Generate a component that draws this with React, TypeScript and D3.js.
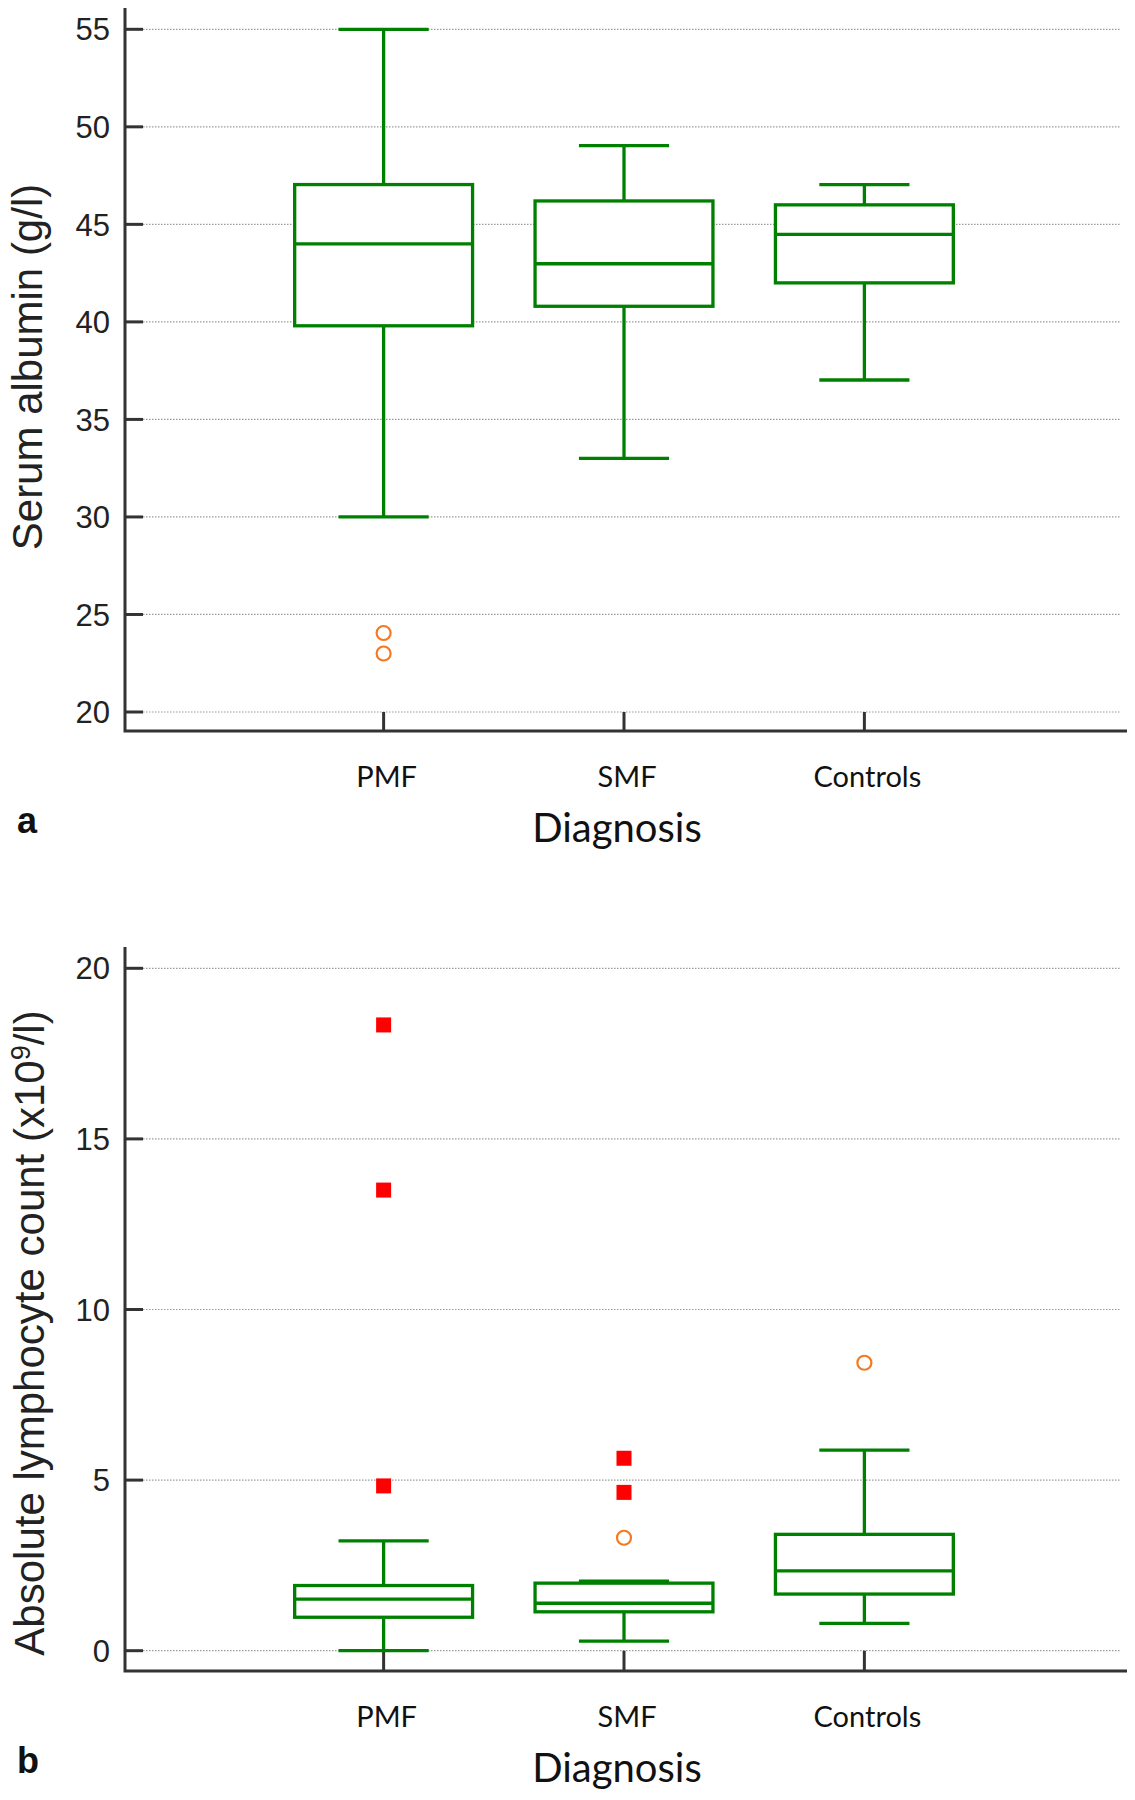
import React from "react";
import * as d3 from "d3";

// categories on the x axis
const categories = ["PMF", "SMF", "Controls"];

// panel a: serum albumin (g/l)
const albuminHigh = [55, 49.04, 47.04];
const albuminQ3 = [47.04, 46.2, 46.0];
const albuminMedian = [44.0, 42.98, 44.49];
const albuminQ1 = [39.8, 40.8, 42.0];
const albuminLow = [30, 33.0, 37.02];
const albuminOutside = [[24.05, 23.0], [], []];
const albuminFarOut = [[], [], []];
const albuminTicks = [20, 25, 30, 35, 40, 45, 50, 55];

// panel b: absolute lymphocyte count (x10^9/l)
const lymphHigh = [3.22, 2.04, 5.88];
const lymphQ3 = [1.91, 1.98, 3.41];
const lymphMedian = [1.51, 1.39, 2.34];
const lymphQ1 = [0.98, 1.14, 1.66];
const lymphLow = [0, 0.28, 0.8];
const lymphOutside = [[], [3.31], [8.44]];
const lymphFarOut = [[18.34, 13.5, 4.83], [5.64, 4.64], []];
const lymphTicks = [0, 5, 10, 15, 20];

const GREEN = "#008000";
const AXIS = "#333";
const ORANGE = "#f47a22";
const RED = "#ff0000";
const tickFont = "'Liberation Sans', Arial, sans-serif";
const catFont = "Lato, 'Open Sans', sans-serif";

const axisLeft = 125;
const axisRight = 1127;
const gridRight = 1120;

type PanelProps = {
  top: number; // y of axis top
  yMax: number;
  yMin: number;
  yTopPx: number;
  yBottomPx: number;
  xAxisY: number;
  ticks: number[];
  high: number[];
  q3: number[];
  median: number[];
  q1: number[];
  low: number[];
  outside: number[][];
  farOut: number[][];
  yLabel: React.ReactNode;
  labelCenterY: number;
  labelX: number;
  letter: string;
  letterY: number;
};

const Panel = (p: PanelProps) => {
  const y = d3.scaleLinear().domain([p.yMin, p.yMax]).range([p.yBottomPx, p.yTopPx]);
  const x = d3.scalePoint<string>().domain(categories).range([axisLeft - 1, axisRight - 3]).padding(1.08);
  const step = x.step();
  const boxW = step * 0.74;
  const capW = step * 0.375;

  return (
    <g>
      {/* grid */}
      {p.ticks.map((t) => (
        <line key={"g" + t} x1={143} x2={gridRight} y1={y(t)} y2={y(t)}
          stroke="#9a9a9a" strokeWidth={1.2} strokeDasharray="1.5 1.5" />
      ))}
      {/* x ticks */}
      {categories.map((c) => (
        <line key={"xt" + c} x1={x(c)} x2={x(c)} y1={y(p.yMin)} y2={p.xAxisY}
          stroke={AXIS} strokeWidth={3} />
      ))}
      {/* boxes */}
      {categories.map((c, i) => {
        const cx = x(c) as number;
        return (
          <g key={"b" + c} stroke={GREEN} strokeWidth={3.3} fill="none">
            <line x1={cx} x2={cx} y1={y(p.high[i])} y2={y(p.q3[i])} />
            <line x1={cx} x2={cx} y1={y(p.q1[i])} y2={y(p.low[i])} />
            <rect x={cx - boxW / 2} y={y(p.q3[i])} width={boxW}
              height={y(p.q1[i]) - y(p.q3[i])} fill="#fff" />
            <line x1={cx - boxW / 2} x2={cx + boxW / 2} y1={y(p.median[i])} y2={y(p.median[i])} />
            <line x1={cx - capW / 2} x2={cx + capW / 2} y1={y(p.high[i])} y2={y(p.high[i])} />
            <line x1={cx - capW / 2} x2={cx + capW / 2} y1={y(p.low[i])} y2={y(p.low[i])} />
          </g>
        );
      })}
      {/* outside values */}
      {categories.map((c, i) =>
        p.outside[i].map((v, j) => (
          <circle key={"o" + c + j} cx={x(c)} cy={y(v)} r={7} fill="#fff"
            stroke={ORANGE} strokeWidth={2.2} />
        ))
      )}
      {categories.map((c, i) =>
        p.farOut[i].map((v, j) => (
          <rect key={"f" + c + j} x={(x(c) as number) - 7.5} y={y(v) - 7.5}
            width={15} height={15} fill={RED} />
        ))
      )}
      {/* y ticks + labels */}
      {p.ticks.map((t) => (
        <g key={"yt" + t}>
          <line x1={axisLeft} x2={143} y1={y(t)} y2={y(t)} stroke={AXIS} strokeWidth={3} />
          <text x={110} y={y(t)} dy="0.36em" textAnchor="end" fontFamily={tickFont}
            fontSize={31} fill="#222">{t}</text>
        </g>
      ))}
      {/* axes */}
      <path d={`M${axisLeft},${p.top} V${p.xAxisY} H${axisRight}`} fill="none"
        stroke={AXIS} strokeWidth={3} />
      {/* category labels */}
      {categories.map((c) => (
        <text key={"xl" + c} x={(x(c) as number) + 3} y={p.xAxisY + 56} textAnchor="middle"
          fontFamily={catFont} fontSize={29} fill="#111">{c}</text>
      ))}
      <text x={617} y={p.xAxisY + 111} textAnchor="middle" fontFamily={catFont}
        fontSize={40} fill="#111">Diagnosis</text>
      <text x={17} y={p.letterY} fontFamily={tickFont} fontWeight="bold" fontSize={36}
        fill="#111">{p.letter}</text>
      <text transform={`translate(${p.labelX},${p.labelCenterY}) rotate(-90)`}
        textAnchor="middle" fontFamily={tickFont} fontSize={42} fill="#222">{p.yLabel}</text>
    </g>
  );
};

export default function App() {
  return (
    <svg width={1135} height={1800} viewBox="0 0 1135 1800"
      style={{ position: "absolute", left: 0, top: 0, background: "#fff" }}>
      <rect width={1135} height={1800} fill="#fff" />
      <Panel top={8} yMin={20} yMax={55} yTopPx={29.3} yBottomPx={712} xAxisY={731}
        ticks={albuminTicks} high={albuminHigh} q3={albuminQ3} median={albuminMedian}
        q1={albuminQ1} low={albuminLow} outside={albuminOutside} farOut={albuminFarOut}
        yLabel="Serum albumin (g/l)" labelX={42} labelCenterY={367}
        letter="a" letterY={833} />
      <Panel top={947} yMin={0} yMax={20} yTopPx={968.3} yBottomPx={1650.7} xAxisY={1671}
        ticks={lymphTicks} high={lymphHigh} q3={lymphQ3} median={lymphMedian}
        q1={lymphQ1} low={lymphLow} outside={lymphOutside} farOut={lymphFarOut}
        yLabel={<>Absolute lymphocyte count (x10<tspan dy="-14" fontSize={27}>9</tspan><tspan dy="14">/l)</tspan></>}
        labelX={44} labelCenterY={1333}
        letter="b" letterY={1773} />
    </svg>
  );
}
